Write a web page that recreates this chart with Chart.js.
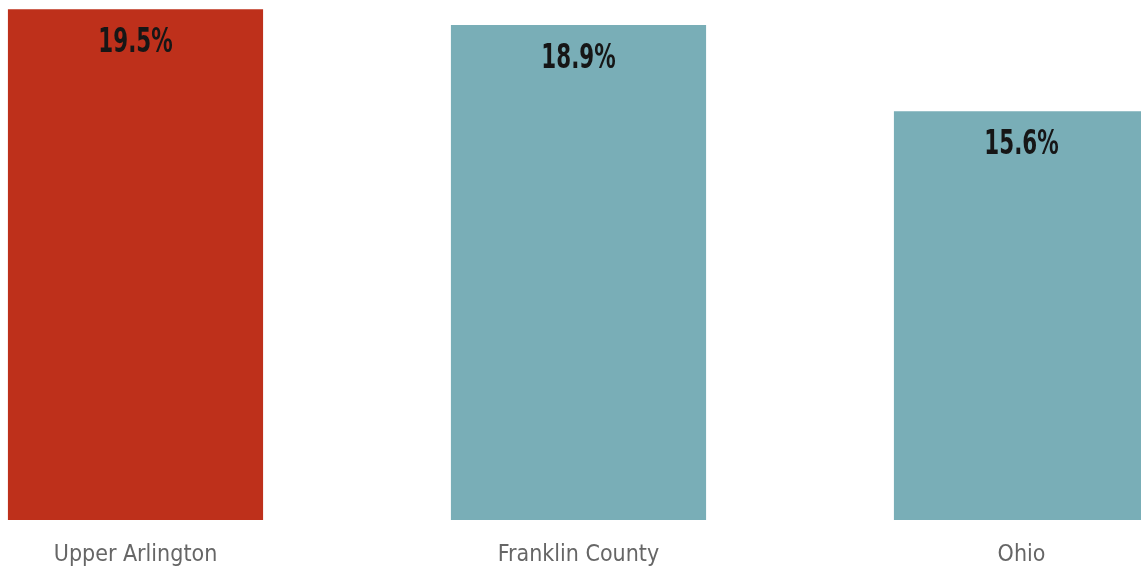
<!DOCTYPE html>
<html>
<head>
<meta charset="utf-8">
<script src="https://cdn.jsdelivr.net/npm/chart.js@4/dist/chart.umd.min.js"></script>
<style>
  html, body { margin: 0; padding: 0; background: #fff; overflow: hidden; width: 1141px; height: 567px; }
  #wrap { position: absolute; left: -86px; top: 0; width: 1329px; height: 591px; }
</style>
</head>
<body>
<div id="wrap"><canvas id="c"></canvas></div>
<script>
const categories = ["Upper Arlington", "Franklin County", "Ohio"];
const values = [19.5, 18.9, 15.6];
const barColors = ["#BE301B", "#79AEB7", "#79AEB7"];
const valueLabels = ["19.5%", "18.9%", "15.6%"];

const FONT = "'DejaVu Sans Condensed', 'Liberation Sans Narrow', sans-serif";

const valueLabelPlugin = {
  id: "valueLabels",
  afterDatasetsDraw(chart) {
    const ctx = chart.ctx;
    const meta = chart.getDatasetMeta(0);
    meta.data.forEach((bar, i) => {
      ctx.save();
      ctx.translate(bar.x, bar.y + 34);
      ctx.scale(0.7, 1);
      ctx.font = "bold 34px " + FONT;
      ctx.fillStyle = "#161616";
      ctx.textAlign = "center";
      ctx.textBaseline = "middle";
      ctx.fillText(valueLabels[i], 0, 0);
      ctx.restore();
    });
  }
};

new Chart(document.getElementById("c"), {
  type: "bar",
  data: {
    labels: categories,
    datasets: [{
      data: values,
      backgroundColor: barColors,
      borderWidth: 0,
      barPercentage: 0.576,
      categoryPercentage: 1.0
    }]
  },
  options: {
    responsive: true,
    maintainAspectRatio: false,
    animation: false,
    layout: { padding: 0 },
    plugins: { legend: { display: false }, tooltip: { enabled: false } },
    scales: {
      x: {
        grid: { display: false, drawTicks: false },
        border: { display: false },
        ticks: {
          color: "#666666",
          padding: 24,
          font: { family: FONT, size: 23, lineHeight: 1 }
        }
      },
      y: {
        display: false,
        min: 0,
        max: 19.85
      }
    }
  },
  plugins: [valueLabelPlugin]
});
</script>
</body>
</html>
